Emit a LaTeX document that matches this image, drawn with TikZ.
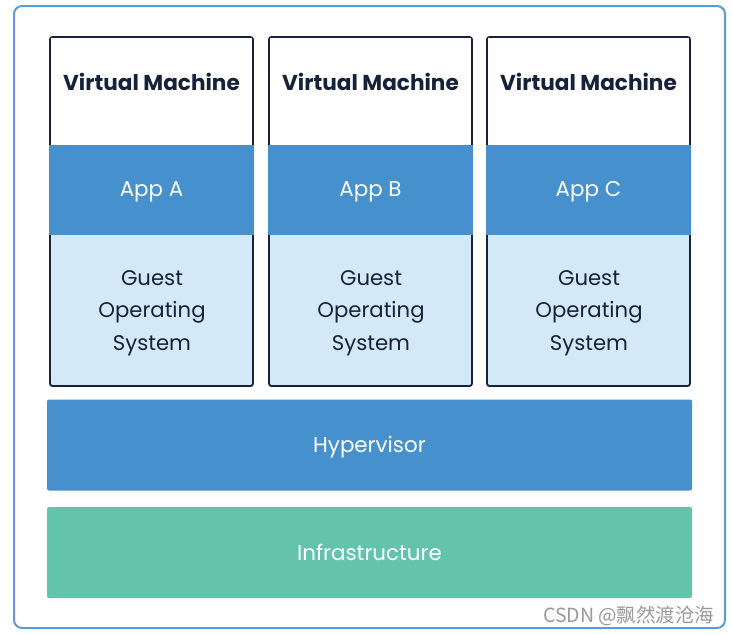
\documentclass[tikz,border=0pt]{standalone}
\usepackage{fontspec}
\setmainfont{Poppins}
\newfontfamily\cjkfont{Noto Sans CJK SC}
\usetikzlibrary{positioning}
\definecolor{navy}{HTML}{16213A}
\definecolor{appblue}{HTML}{4590CD}
\definecolor{guestblue}{HTML}{D4E9F8}
\definecolor{infragreen}{HTML}{64C4AB}
\definecolor{frameblue}{HTML}{5B9BD6}
\tikzset{
  vmbox/.style={draw=navy, line width=1.8pt, rounded corners=2.5pt, fill=guestblue,
    minimum width=203pt, minimum height=349pt, inner sep=0pt},
  vmtitle/.style={font=\bfseries\fontsize{21.6}{25}\selectfont, text=navy},
  appband/.style={fill=appblue, minimum width=205pt, minimum height=90pt, inner sep=0pt,
    text=white, font=\fontsize{21.4}{25}\selectfont},
  guesttext/.style={text=navy, align=center, font=\fontsize{21.2}{32.5}\selectfont},
  layer/.style={rounded corners=2pt, minimum width=645pt, minimum height=91pt,
    inner sep=0pt, text=white, font=\fontsize{21.4}{25}\selectfont}
}
\begin{document}
\begin{tikzpicture}[x=1pt,y=-1pt]
  \useasboundingbox (0,0) rectangle (732,635);
  \draw[frameblue, line width=2pt, rounded corners=8pt] (14,6) rectangle (725,628);
  % virtual machines
  \foreach \n/\x/\app in {A/151.5/App A, B/370.5/App B, C/588.5/App C} {
    \node (vm\n) [vmbox] at (\x,211.5) {};
    \fill[white] (\x-100.6,38) rectangle (\x+100.6,145);
    \node (title\n) [vmtitle] at (\x,82) {Virtual Machine};
    \node (app\n) [appband] at (\x,190) {};
    \node (apptext\n) [text=white, font=\fontsize{21.4}{25}\selectfont] at (\x,192) {\app};
    \node (guest\n) [guesttext] at (\x+0.5,313) {Guest\\Operating\\System};
  }
  % layers
  \node (hyper) [layer, fill=appblue] at (369.5,445) {};
  \node (hypertext) [text=white, font=\fontsize{21.4}{25}\selectfont] at (369.5,447.5) {Hypervisor};
  \node (infra) [layer, fill=infragreen] at (369.5,552.5) {Infrastructure};
  \node (mark) [text=black!40, font=\cjkfont\fontsize{19.5}{22}\selectfont, anchor=south east]
    at (718,629) {CSDN @飘然渡沧海};
\end{tikzpicture}
\end{document}
